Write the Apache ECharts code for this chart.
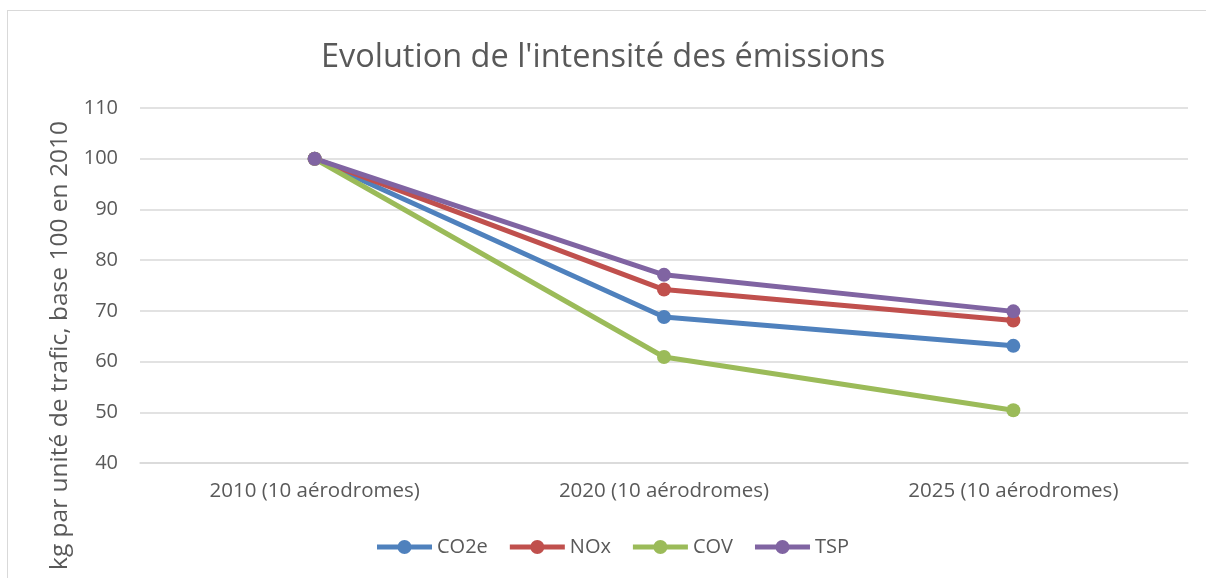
<!DOCTYPE html>
<html>
<head>
<meta charset="utf-8">
<script src="https://cdn.jsdelivr.net/npm/echarts@6/dist/echarts.min.js"></script>
<style>
  html, body { margin: 0; padding: 0; background: #fff; }
  #frame { position: absolute; left: 7px; top: 10px; width: 1220px; height: 600px; border: 1px solid #d9d9d9; }
  #chart { position: absolute; left: 0; top: 0; width: 1206px; height: 578px; }
</style>
</head>
<body>
<div id="frame"></div>
<div id="chart"></div>
<script>
// categories and values
var categories = ['2010 (10 aérodromes)', '2020 (10 aérodromes)', '2025 (10 aérodromes)'];
var co2e = [100, 68.8, 63.1];
var nox = [100, 74.2, 68.1];
var cov = [100, 60.9, 50.4];
var tsp = [100, 77.1, 69.9];
var seriesNames = ['CO2e', 'NOx', 'COV', 'TSP'];
var colors = ['#4f81bd', '#c0504d', '#9bbb59', '#8064a2'];

var font = 'Open Sans';
// thick line with a dot in the middle, like the Excel legend
var legendIcon = 'path://M0,4.5H55V9.5H0Z M20.5,7A7,7 0 1 1 34.5,7A7,7 0 1 1 20.5,7Z';
var chart = echarts.init(document.getElementById('chart'));

function line(name, data, color) {
  return {
    name: name,
    type: 'line',
    data: data,
    symbol: 'circle',
    symbolSize: 14,
    itemStyle: { color: color },
    lineStyle: { width: 5, color: color },
    animation: false
  };
}

chart.setOption({
  title: {
    text: "Evolution de l'intensité des émissions",
    left: 'center',
    top: 36,
    textStyle: { fontFamily: font, fontSize: 32.5, fontWeight: 'normal', color: '#595959' }
  },
  legend: {
    bottom: 16,
    left: 372,
    itemWidth: 55,
    itemHeight: 14,
    itemGap: 22,
    icon: legendIcon,
    textStyle: { fontFamily: font, fontSize: 20, color: '#595959' },
    data: seriesNames
  },
  grid: { left: 140, right: 18, top: 108, bottom: 115 },
  xAxis: {
    type: 'category',
    data: categories,
    boundaryGap: true,
    axisLine: { lineStyle: { color: '#d9d9d9', width: 1.5 } },
    axisTick: { show: false },
    axisLabel: { fontFamily: font, fontSize: 20.5, color: '#595959', margin: 18 }
  },
  yAxis: {
    type: 'value',
    min: 40,
    max: 110,
    interval: 10,
    name: 'kg par unité de trafic, base 100 en 2010',
    nameLocation: 'middle',
    nameGap: 67,
    nameTextStyle: { fontFamily: font, fontSize: 24.5, color: '#595959', padding: [0, 120, 0, 0] },
    axisLine: { show: false },
    axisTick: { show: false },
    axisLabel: { fontFamily: font, fontSize: 20, color: '#595959', margin: 22 },
    splitLine: { lineStyle: { color: '#d9d9d9', width: 1.5 } }
  },
  series: [
    line('CO2e', co2e, colors[0]),
    line('NOx', nox, colors[1]),
    line('COV', cov, colors[2]),
    line('TSP', tsp, colors[3])
  ]
});
</script>
</body>
</html>
